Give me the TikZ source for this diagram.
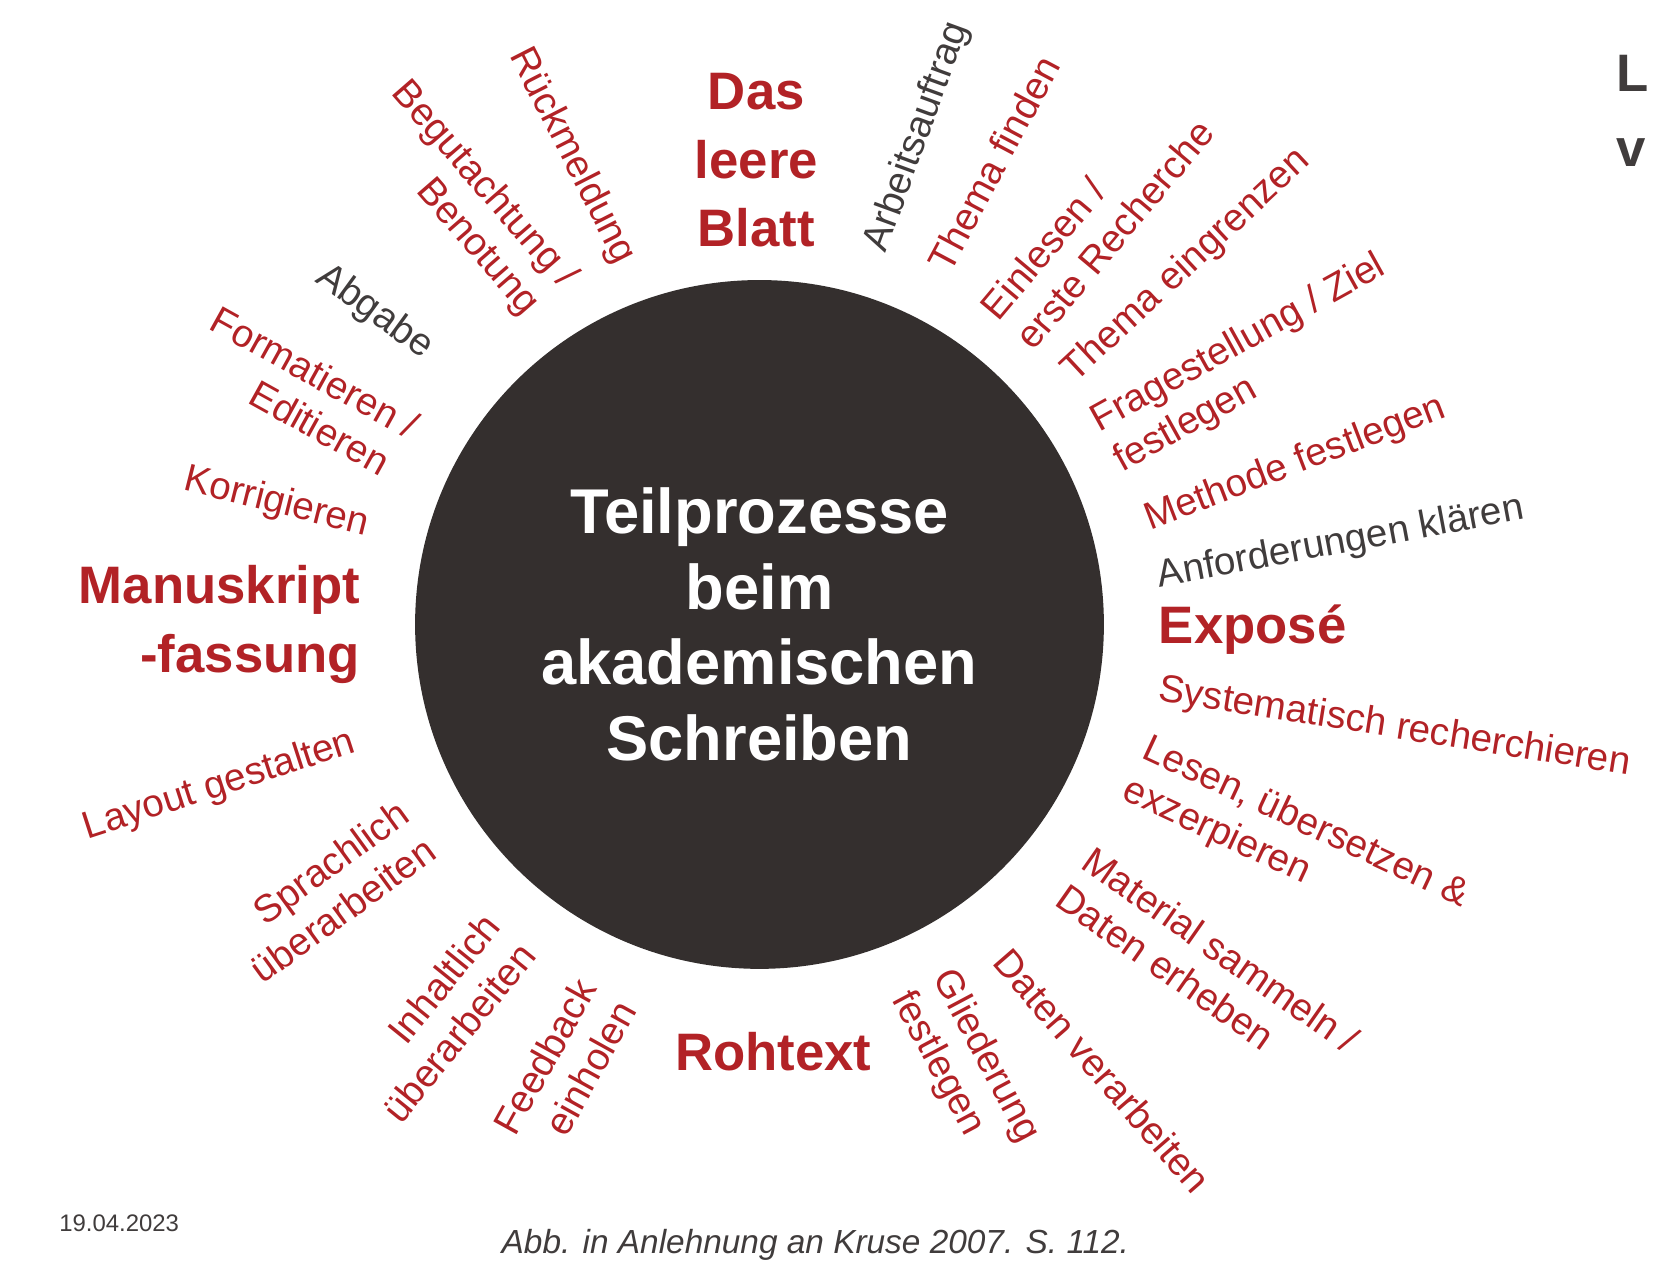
\documentclass[tikz,border=0pt]{standalone}
\usepackage{fontspec}
\setmainfont{Liberation Sans}
\definecolor{kred}{RGB}{178,34,38}
\definecolor{kgray}{RGB}{64,60,60}
\definecolor{hubfill}{RGB}{52,47,46}
\tikzset{sub/.style={text=kred,font=\fontsize{11}{13}\selectfont,align=left,inner sep=0pt},
         subr/.style={sub,align=right},
         subg/.style={sub,text=kgray},
         phase/.style={text=kred,font=\fontsize{15}{19.5}\selectfont\bfseries,inner sep=0pt}
}
\begin{document}
\begin{tikzpicture}[x=0.10548mm,y=-0.10548mm]
\useasboundingbox (0,0) rectangle (1568,1210);
% centre
\node[circle,fill=hubfill,minimum size=653*0.10548mm,inner sep=0pt,text=white,align=center,
      font=\fontsize{18}{21.5}\selectfont\bfseries] (hub) at (720,592)
      {Teilprozesse\\beim\\akademischen\\Schreiben};
% phases
\node[phase,align=center] (blatt) at (717,152) {Das\\leere\\Blatt};
\node[phase,anchor=west] (expose) at (1098,597) {Exposé};
\node[phase] (rohtext) at (733,997) {Rohtext};
\node[phase,align=right,anchor=east] (manus) at (342,592) {Manuskript\\-fassung};
% sub-processes
\node[subg,rotate=70] (auftrag) at (870,130) {Arbeitsauftrag};
\node[sub,rotate=62] (finden) at (942,155) {Thema finden};
\node[sub,rotate=50] (einlesen) at (1040,208) {Einlesen /\\erste Recherche};
\node[sub,rotate=43] (eingrenzen) at (1125,252) {Thema eingrenzen};
\node[sub,rotate=29] (frage) at (1185,345) {Fragestellung / Ziel\\festlegen};
\node[sub,rotate=21] (methode) at (1228,440) {Methode festlegen};
\node[subg,rotate=10.6] (anford) at (1271,515) {Anforderungen klären};
\node[sub,rotate=-9] (syst) at (1322,690) {Systematisch recherchieren};
\node[sub,rotate=-25] (lesen) at (1228,800) {Lesen, übersetzen \&\\exzerpieren};
\node[sub,rotate=-35] (material) at (1145,918) {Material sammeln /\\Daten erheben};
\node[sub,rotate=-49] (verarb) at (1045,1015) {Daten verarbeiten};
\node[sub,rotate=-62] (gliederung) at (915,1012) {Gliederung\\festlegen};
\node[subr,rotate=61] (feedback) at (535,1012) {Feedback\\einholen};
\node[subr,rotate=51] (inhalt) at (418,965) {Inhaltlich\\überarbeiten};
\node[subr,rotate=36] (sprache) at (312,845) {Sprachlich\\überarbeiten};
\node[sub,rotate=18] (layout) at (208,745) {Layout gestalten};
\node[sub,rotate=-14] (korr) at (262,477) {Korrigieren};
\node[sub,rotate=-29] (format) at (288,372) {Formatieren /\\\hspace*{7mm}Editieren};
\node[subg,rotate=-36] (abgabe) at (355,296) {Abgabe};
\node[sub,rotate=-49] (gutachten) at (442,190) {Begutachtung /\\\hspace*{9mm}Benotung};
\node[sub,rotate=-63] (rueck) at (542,148) {Rückmeldung};
% footer and cut-off heading
\node[text=kgray,font=\fontsize{6.8}{8}\selectfont] (datum) at (113,1160) {19.04.2023};
\node[text=kgray,font=\fontsize{9.5}{11}\selectfont\itshape] (quelle) at (773,1180)
      {Abb. in Anlehnung an Kruse 2007. S. 112.};
\node[text=kgray,font=\fontsize{15}{17}\selectfont\bfseries,anchor=west,inner sep=0pt] (kopf1) at (1532,70) {L};
\node[text=kgray,font=\fontsize{15}{17}\selectfont\bfseries,anchor=west,inner sep=0pt] (kopf2) at (1532,145) {v};
\end{tikzpicture}
\end{document}
